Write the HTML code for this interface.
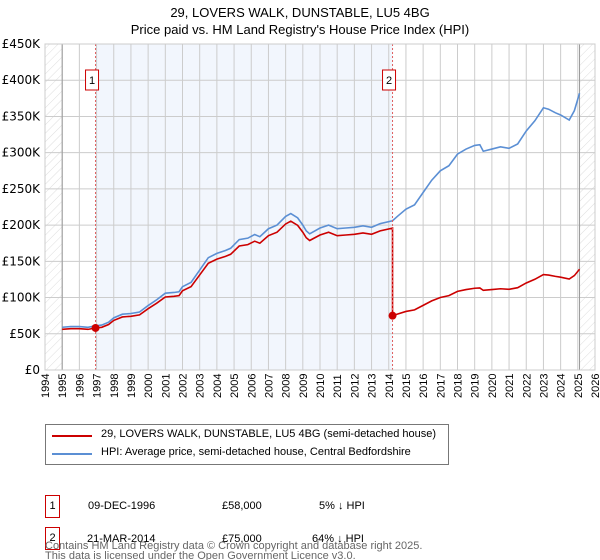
<!DOCTYPE html>
<html><head><meta charset="utf-8"><style>
body{margin:0;background:#fff;font-family:"Liberation Sans","DejaVu Sans",sans-serif;}
#wrap{position:relative;width:600px;height:560px;overflow:hidden}
.t{position:absolute;font-size:12px;color:#000;white-space:nowrap}
</style></head><body><div id="wrap">
<div class="t" style="left:0;width:600px;text-align:center;top:4px;font-size:13px;line-height:17px">29, LOVERS WALK, DUNSTABLE, LU5 4BG<br>Price paid vs. HM Land Registry's House Price Index (HPI)</div>
<svg id="c" width="600" height="410" style="position:absolute;left:0;top:0"></svg>
<div style="position:absolute;left:45px;top:424px;width:404px;height:41px;border:1px solid #777;box-sizing:border-box">
 <div><div style="position:absolute;left:6px;top:10px;width:40px;height:2px;background:#cc0000"></div><div class="t" style="left:55px;top:3px;font-size:11px">29, LOVERS WALK, DUNSTABLE, LU5 4BG (semi-detached house)</div></div>
 <div><div style="position:absolute;left:6px;top:28px;width:40px;height:2px;background:#5b8fd4"></div><div class="t" style="left:55px;top:21px;font-size:11px">HPI: Average price, semi-detached house, Central Bedfordshire</div></div>
</div>
<div>
 <div class="t" style="left:45px;top:495px;width:13px;height:21px;border:1px solid #cc0000;text-align:center;line-height:21px;font-size:11px">1</div>
 <div class="t" style="left:88px;top:500px;font-size:11px">09-DEC-1996</div>
 <div class="t" style="left:222px;top:500px;font-size:11px">£58,000</div>
 <div class="t" style="left:319px;top:500px;font-size:11px">5% ↓ HPI</div>
</div>
<div>
 <div class="t" style="left:45px;top:527px;width:13px;height:21px;border:1px solid #cc0000;text-align:center;line-height:21px;font-size:11px">2</div>
 <div class="t" style="left:87px;top:533px;font-size:11px">21-MAR-2014</div>
 <div class="t" style="left:222px;top:533px;font-size:11px">£75,000</div>
 <div class="t" style="left:312px;top:533px;font-size:11px">64% ↓ HPI</div>
</div>
<div class="t" style="left:45px;top:541px;font-size:11px;color:#666;line-height:10px">Contains HM Land Registry data © Crown copyright and database right 2025.<br>This data is licensed under the Open Government Licence v3.0.</div>
</div>
<script>
const hpiYears=[1995,1995.5,1996,1996.5,1996.94,1997.3,1997.7,1998,1998.5,1999,1999.5,2000,2000.5,2001,2001.5,2001.8,2002,2002.5,2003,2003.5,2004,2004.5,2004.8,2005.3,2005.8,2006.2,2006.5,2007,2007.5,2008,2008.3,2008.7,2009,2009.2,2009.4,2009.7,2010,2010.5,2011,2011.5,2012,2012.5,2013,2013.5,2014.22,2014.5,2015,2015.5,2016,2016.5,2017,2017.5,2018,2018.5,2019,2019.3,2019.5,2020,2020.5,2021,2021.5,2022,2022.5,2023,2023.3,2023.7,2024,2024.5,2024.8,2025.1];
const hpiValues=[59,60,60,59,61,62,66,72,77,78,80,89,97,106,107,108,115,121,138,155,161,165,168,180,182,187,184,195,200,212,216,210,200,192,188,192,196,200,195,196,197,199,197,202,206,212,222,228,245,262,275,282,298,305,310,311,302,305,308,306,312,330,344,362,360,355,352,345,358,382];
const saleDates=[1996.94,2014.22];
const salePrices=[58000,75000];
const yTicks=[0,50,100,150,200,250,300,350,400,450];
const yTickLabels=["£0","£50K","£100K","£150K","£200K","£250K","£300K","£350K","£400K","£450K"];
const xTicks=[1994,1995,1996,1997,1998,1999,2000,2001,2002,2003,2004,2005,2006,2007,2008,2009,2010,2011,2012,2013,2014,2015,2016,2017,2018,2019,2020,2021,2022,2023,2024,2025,2026];

const L=45,R=595,T=44,B=370;
const X=y=>L+(y-1994)/32*(R-L);
const Y=v=>B-v/450*(B-T);
const svg=document.getElementById('c');const NS='http://www.w3.org/2000/svg';
function mk(t,a,p){const e=document.createElementNS(NS,t);for(const k in a)e.setAttribute(k,a[k]);(p||svg).appendChild(e);return e;}
const defs=mk('defs',{});
const pat=mk('pattern',{id:'h',width:6,height:6,patternUnits:'userSpaceOnUse',patternTransform:'rotate(45)'},defs);
mk('line',{x1:0,y1:0,x2:0,y2:6,stroke:'#ddd','stroke-width':1},pat);
let e;
e=mk('rect',{x:X(saleDates[0]),y:T,width:X(saleDates[1])-X(saleDates[0]),height:B-T,fill:'#f2f6fd'});


e=mk('rect',{x:L,y:T,width:X(1995)-L,height:B-T,fill:'url(#h)'});


e=mk('rect',{x:X(2025.1),y:T,width:R-X(2025.1),height:B-T,fill:'url(#h)'});


xTicks.forEach(y=>{mk('line',{x1:X(y),y1:T,x2:X(y),y2:B,stroke:'#ccc','stroke-width':1});
 e=mk('text',{x:0,y:0,transform:`translate(${X(y)+4},${398}) rotate(-90)`,'font-size':11,'font-family':'Liberation Sans, sans-serif'});e.textContent=y;
 
 });
yTicks.forEach((v,i)=>{mk('line',{x1:L,y1:Y(v),x2:R,y2:Y(v),stroke:'#ccc','stroke-width':1});
 e=mk('text',{x:40,y:Y(v)+4,'text-anchor':'end','font-size':12,'font-family':'DejaVu Sans, sans-serif'});e.textContent=yTickLabels[i];
 
 });
mk('line',{x1:X(1995),y1:T,x2:X(1995),y2:B,stroke:'#999'});
mk('line',{x1:X(2025.1),y1:T,x2:X(2025.1),y2:B,stroke:'#999'});
e=mk('polyline',{points:hpiYears.map((y,i)=>X(y)+','+Y(hpiValues[i])).join(' '),fill:'none',stroke:'#5b8fd4','stroke-width':1.6});


function hpiAt(t){for(let i=1;i<hpiYears.length;i++){if(t<=hpiYears[i]){const f=(t-hpiYears[i-1])/(hpiYears[i]-hpiYears[i-1]);return hpiValues[i-1]+f*(hpiValues[i]-hpiValues[i-1]);}}return hpiValues[hpiValues.length-1];}
const r0=salePrices[0]/1000/hpiAt(saleDates[0]), r1=salePrices[1]/1000/hpiAt(saleDates[1]);
const pts=[];
hpiYears.forEach((y,i)=>{if(y<saleDates[1]) pts.push([y,hpiValues[i]*r0]);});
pts.push([saleDates[1],hpiAt(saleDates[1])*r0]);
hpiYears.forEach((y,i)=>{if(y>=saleDates[1]) pts.push([y,hpiValues[i]*r1]);});
e=mk('polyline',{points:pts.map(p=>X(p[0])+','+Y(p[1])).join(' '),fill:'none',stroke:'#cc0000','stroke-width':1.6});


saleDates.forEach((d,i)=>{
 mk('line',{x1:X(d),y1:T,x2:X(d),y2:B,stroke:'#e06060','stroke-dasharray':'2,2','stroke-width':1});
 e=mk('circle',{cx:X(d),cy:Y(salePrices[i]/1000),r:4,fill:'#cc0000'});
 
 
 const g=mk('g',{});
 
 
 mk('rect',{x:X(d)-10,y:70,width:13,height:20,fill:'#fff',stroke:'#cc0000'},g);
 const t=mk('text',{x:X(d)-3.5,y:84,'text-anchor':'middle','font-size':11,'font-family':'Liberation Sans, sans-serif'},g);t.textContent=i+1;
});
mk('rect',{x:L,y:T,width:R-L,height:B-T,fill:'none',stroke:'#ccc'});
</script></body></html>
